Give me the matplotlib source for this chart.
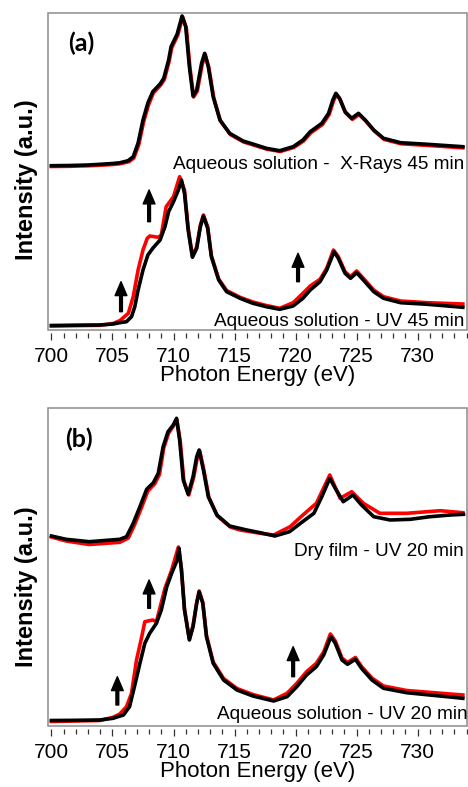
import matplotlib
matplotlib.use('Agg')
import matplotlib.pyplot as plt
from matplotlib.patches import Rectangle
from matplotlib.ticker import MultipleLocator

plt.rcParams['font.family'] = ['Liberation Sans', 'DejaVu Sans']

# ---- panel (a): aqueous solution, X-rays 45 min (top) and UV 45 min (bottom)
a_top_E_black = [700.0, 701.5, 703.0, 704.0, 705.0, 705.6, 706.28, 706.7, 707.1, 707.5,
                 707.9, 708.3, 708.9, 709.2, 709.6, 709.8, 710.3, 710.7, 711.0, 711.3,
                 711.6, 711.9, 712.3, 712.55, 712.85, 713.25, 713.8, 714.6, 715.7, 716.5,
                 717.6, 718.7, 719.8, 720.6, 721.2, 722.15, 722.7, 723.05, 723.3, 723.6,
                 724.05, 724.6, 725.15, 725.7, 726.4, 727.2, 728.6, 730.8, 733.7]
a_top_I_black = [1.643, 1.645, 1.65, 1.657, 1.665, 1.672, 1.693, 1.733, 1.87, 2.10,
                 2.27, 2.383, 2.46, 2.517, 2.70, 2.833, 2.96, 3.14, 3.033, 2.633,
                 2.34, 2.40, 2.667, 2.767, 2.633, 2.333, 2.10, 1.967, 1.89, 1.86,
                 1.817, 1.793, 1.833, 1.90, 1.983, 2.067, 2.167, 2.30, 2.367, 2.317,
                 2.183, 2.117, 2.167, 2.10, 2.00, 1.917, 1.873, 1.857, 1.833]
a_top_E_red = [700.0, 701.5, 703.0, 704.0, 705.0, 705.6, 706.35, 706.75, 707.15, 707.55,
               707.95, 708.35, 708.95, 709.25, 709.65, 709.85, 710.35, 710.75, 711.05, 711.35,
               711.65, 711.95, 712.35, 712.6, 712.9, 713.3, 713.85, 714.65, 715.75, 716.55,
               717.65, 718.75, 719.85, 720.65, 721.25, 722.2, 722.75, 723.1, 723.35, 723.65,
               724.1, 724.65, 725.2, 725.75, 726.45, 727.25, 728.65, 730.8, 733.7]
a_top_I_red = [1.635, 1.637, 1.642, 1.648, 1.655, 1.662, 1.683, 1.72, 1.85, 2.08,
               2.25, 2.37, 2.45, 2.505, 2.69, 2.82, 2.95, 3.13, 3.02, 2.62,
               2.33, 2.39, 2.655, 2.755, 2.62, 2.32, 2.09, 1.955, 1.88, 1.85,
               1.808, 1.785, 1.825, 1.89, 1.972, 2.055, 2.155, 2.29, 2.355, 2.305,
               2.172, 2.106, 2.155, 2.09, 1.99, 1.906, 1.862, 1.846, 1.822]

a_bot_E_black = [700.0, 702.0, 703.96, 705.05, 705.6, 706.15, 706.56, 706.83, 707.1, 707.5,
                 707.9, 708.3, 708.9, 709.3, 709.6, 710.0, 710.4, 710.65, 710.9, 711.2,
                 711.55, 711.9, 712.2, 712.45, 712.8, 713.1, 713.7, 714.35, 715.45, 716.5,
                 717.6, 718.7, 719.8, 720.6, 721.2, 722.0, 722.55, 723.15, 723.5, 724.05,
                 724.5, 725.0, 725.55, 726.4, 727.2, 728.6, 730.8, 733.7]
a_bot_I_black = [0.045, 0.048, 0.05, 0.06, 0.073, 0.083, 0.133, 0.233, 0.40, 0.60,
                 0.75, 0.817, 0.90, 1.033, 1.183, 1.283, 1.40, 1.50, 1.367, 1.00,
                 0.727, 0.817, 1.033, 1.14, 1.017, 0.733, 0.50, 0.383, 0.317, 0.267,
                 0.233, 0.207, 0.24, 0.317, 0.40, 0.483, 0.60, 0.783, 0.717, 0.567,
                 0.517, 0.573, 0.50, 0.383, 0.317, 0.273, 0.257, 0.227]
a_bot_E_red = [700.0, 703.96, 705.05, 705.6, 706.3, 706.7, 707.1, 707.5, 707.85, 708.06,
               708.75, 709.0, 709.4, 710.0, 710.5, 710.9, 711.2, 711.55, 711.9, 712.2,
               712.45, 712.8, 713.1, 713.7, 714.35, 715.45, 716.5, 717.6, 718.7, 719.8,
               720.6, 721.2, 722.0, 722.55, 723.1, 723.5, 724.05, 724.5, 725.0, 725.55,
               726.4, 727.2, 728.6, 730.8, 733.7]
a_bot_I_red = [0.04, 0.047, 0.065, 0.093, 0.167, 0.333, 0.60, 0.80, 0.917, 0.94,
               0.927, 0.95, 1.233, 1.333, 1.533, 1.40, 1.02, 0.74, 0.83, 1.05,
               1.15, 1.03, 0.745, 0.51, 0.395, 0.327, 0.28, 0.245, 0.217, 0.273,
               0.367, 0.44, 0.507, 0.617, 0.80, 0.733, 0.583, 0.533, 0.59, 0.517,
               0.40, 0.333, 0.29, 0.273, 0.26]

# ---- panel (b): dry film UV 20 min (top) and aqueous solution UV 20 min (bottom)
b_top_E_black = [700.0, 701.2, 703.1, 705.6, 706.15, 706.7, 707.25, 707.8, 708.35, 708.75,
                 709.15, 709.55, 709.98, 710.25, 710.5, 710.8, 711.2, 711.6, 711.9, 712.1,
                 712.45, 712.85, 713.55, 714.6, 716.0, 717.1, 718.3, 719.5, 720.4, 721.5,
                 722.15, 722.8, 723.25, 723.9, 724.7, 725.4, 726.4, 727.75, 729.4, 731.0,
                 732.7, 733.75]
b_top_I_black = [1.90, 1.867, 1.843, 1.867, 1.893, 2.027, 2.193, 2.367, 2.433, 2.527,
                 2.793, 2.943, 3.01, 3.077, 2.86, 2.46, 2.317, 2.493, 2.693, 2.76,
                 2.56, 2.293, 2.11, 2.00, 1.96, 1.933, 1.90, 1.943, 2.027, 2.127,
                 2.293, 2.477, 2.377, 2.243, 2.31, 2.21, 2.093, 2.06, 2.067, 2.093,
                 2.11, 2.117]
b_top_E_red = [700.0, 701.2, 703.1, 705.6, 706.3, 706.8, 707.35, 707.9, 708.45, 708.85,
               709.2, 709.6, 710.0, 710.27, 710.55, 710.85, 711.25, 711.65, 711.95, 712.15,
               712.5, 712.9, 713.6, 714.65, 715.45, 717.1, 718.2, 719.55, 720.6, 721.7,
               722.8, 723.65, 724.6, 725.55, 726.9, 729.1, 731.85, 733.7]
b_top_I_red = [1.89, 1.85, 1.815, 1.837, 1.88, 2.01, 2.175, 2.35, 2.42, 2.515,
               2.78, 2.93, 3.00, 3.065, 2.85, 2.45, 2.31, 2.485, 2.685, 2.75,
               2.55, 2.285, 2.10, 1.99, 1.96, 1.927, 1.91, 1.993, 2.11, 2.227,
               2.51, 2.277, 2.343, 2.227, 2.127, 2.127, 2.153, 2.133]

b_bot_E_black = [700.0, 702.0, 703.96, 705.05, 705.9, 706.4, 706.8, 707.25, 707.65, 708.05,
                 708.6, 709.0, 709.45, 709.85, 710.3, 710.45, 710.65, 710.9, 711.3, 711.6,
                 711.9, 712.1, 712.4, 712.7, 713.25, 714.1, 715.2, 716.5, 718.2, 719.3,
                 720.1, 720.9, 721.7, 722.3, 722.9, 723.25, 723.8, 724.25, 724.9, 725.4,
                 726.25, 727.2, 729.1, 733.7]
b_bot_I_black = [0.055, 0.057, 0.06, 0.077, 0.11, 0.193, 0.393, 0.627, 0.827, 0.927,
                 1.027, 1.16, 1.393, 1.527, 1.66, 1.777, 1.56, 1.16, 0.86, 0.993,
                 1.227, 1.343, 1.227, 0.893, 0.627, 0.46, 0.36, 0.30, 0.25, 0.293,
                 0.393, 0.51, 0.593, 0.71, 0.893, 0.827, 0.66, 0.617, 0.667, 0.577,
                 0.46, 0.377, 0.333, 0.277]
b_bot_E_red = [700.0, 703.96, 705.05, 705.6, 706.15, 706.56, 706.97, 707.4, 707.65, 708.3,
               708.6, 709.3, 709.85, 710.4, 710.65, 710.9, 711.3, 711.6, 711.9, 712.1,
               712.4, 712.7, 713.25, 714.1, 715.2, 716.5, 718.2, 719.3, 720.1, 720.9,
               721.7, 722.3, 722.85, 723.25, 723.8, 724.25, 724.9, 725.4, 726.25, 727.2,
               729.1, 733.7]
b_bot_I_red = [0.045, 0.055, 0.087, 0.12, 0.193, 0.327, 0.66, 0.893, 1.043, 1.06,
               1.043, 1.377, 1.56, 1.79, 1.57, 1.17, 0.87, 1.005, 1.235, 1.35,
               1.235, 0.905, 0.64, 0.475, 0.375, 0.315, 0.26, 0.327, 0.427, 0.543,
               0.627, 0.74, 0.92, 0.85, 0.68, 0.635, 0.685, 0.595, 0.48, 0.40,
               0.355, 0.31]

# arrows: (energy, tail, tip)
a_arrows = [(705.7, 0.183, 0.483), (708.0, 1.083, 1.40), (720.2, 0.483, 0.767)]
b_arrows = [(705.4, 0.21, 0.493), (708.0, 1.177, 1.46), (719.8, 0.493, 0.793)]

GRAY = '#8c8c8c'
LW = 2.6

fig = plt.figure(figsize=(4.68, 7.87), dpi=100)
ax_a = fig.add_axes([48 / 468, 1 - 330 / 787, 419 / 468, 317 / 787])
ax_b = fig.add_axes([48 / 468, 1 - 726 / 787, 419 / 468, 318 / 787])

panels = [
    (ax_a, 3.17, [(a_top_E_red, a_top_I_red, a_top_E_black, a_top_I_black),
                  (a_bot_E_red, a_bot_I_red, a_bot_E_black, a_bot_I_black)], a_arrows),
    (ax_b, 3.18, [(b_top_E_red, b_top_I_red, b_top_E_black, b_top_I_black),
                  (b_bot_E_red, b_bot_I_red, b_bot_E_black, b_bot_I_black)], b_arrows),
]

for ax, ytop, curves, arrows in panels:
    for er, ir, ek, ik in curves:
        ax.plot(er, ir, color='#ff0000', lw=LW, solid_joinstyle='round')
        ax.plot(ek, ik, color='black', lw=LW, solid_joinstyle='round')
    for e, tail, tip in arrows:
        ax.annotate('', xy=(e, tip), xytext=(e, tail),
                    arrowprops=dict(facecolor='black', edgecolor='black',
                                    width=2.0, headwidth=8.5, headlength=10, shrink=0))
    ax.set_xlim(699.72, 734.04)
    ax.set_ylim(0, ytop)
    ax.set_yticks([])
    for s in ax.spines.values():
        s.set_visible(False)
    # Igor-style: tick row sits a little below the frame
    ax.spines['bottom'].set_position(('outward', 2.2))
    ax.add_patch(Rectangle((0, 0), 1, 1, transform=ax.transAxes, fill=False,
                           edgecolor=GRAY, lw=1.1, clip_on=False))
    ax.xaxis.set_major_locator(MultipleLocator(5))
    ax.xaxis.set_minor_locator(MultipleLocator(1))
    ax.tick_params(axis='x', which='major', direction='out', length=5.2, width=0.9,
                   color='#333333', labelsize=15, pad=5)
    ax.tick_params(axis='x', which='minor', direction='out', length=3.3, width=0.9,
                   color='#333333')
    ax.set_xlabel('Photon Energy (eV)', fontsize=16, labelpad=-1)

ax_a.text(0.048, 0.905, '(a)', transform=ax_a.transAxes, ha='left', va='center',
          fontsize=18, fontweight='bold', family=['Lato', 'DejaVu Sans'])
ax_b.text(0.040, 0.9025, '(b)', transform=ax_b.transAxes, ha='left', va='center',
          fontsize=18, fontweight='bold', family=['Lato', 'DejaVu Sans'])

ax_a.text(0.993, 0.507, 'Aqueous solution -  X-Rays 45 min', transform=ax_a.transAxes,
          ha='right', va='baseline', fontsize=13.7)
ax_a.text(0.993, 0.0136, 'Aqueous solution - UV 45 min', transform=ax_a.transAxes,
          ha='right', va='baseline', fontsize=13.7)
ax_b.text(0.993, 0.5355, 'Dry film - UV 20 min', transform=ax_b.transAxes,
          ha='right', va='baseline', fontsize=13.7)
ax_b.text(1.002, 0.021, 'Aqueous solution - UV 20 min', transform=ax_b.transAxes,
          ha='right', va='baseline', fontsize=13.7)

fig.text(27 / 468, 1 - 180 / 787, 'Intensity (a.u.)', rotation=90, ha='center', va='center',
         fontsize=17, fontweight='bold')
fig.text(27 / 468, 1 - 587 / 787, 'Intensity (a.u.)', rotation=90, ha='center', va='center',
         fontsize=17, fontweight='bold')

fig.savefig('out.png', dpi=100)
